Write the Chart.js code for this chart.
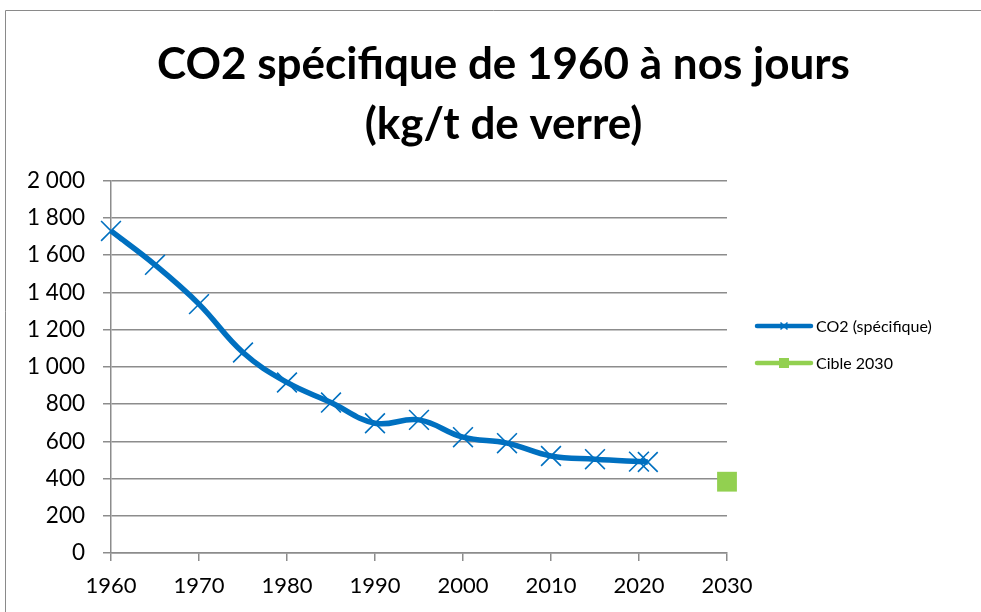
<!DOCTYPE html>
<html>
<head>
<meta charset="utf-8">
<script src="https://cdn.jsdelivr.net/npm/chart.js@4.4.1/dist/chart.umd.min.js"></script>
<style>
  html, body { margin: 0; padding: 0; background: #ffffff; }
  #wrap { position: relative; width: 981px; height: 612px; }
</style>
</head>
<body>
<div id="wrap"><canvas id="c" width="981" height="612"></canvas></div>
<script>
// ---- data ----
const years = [1960, 1965, 1970, 1975, 1980, 1985, 1990, 1995, 2000, 2005, 2010, 2015, 2020, 2021];
const co2Values = [1730, 1548, 1337, 1077, 916, 808, 697, 715, 622, 590, 521, 504, 491, 489];
const targetYears = [2030];
const targetValues = [383];
const seriesLabels = ['CO2 (spécifique)', 'Cible 2030'];
const titleLines = ['CO2 spécifique de 1960 à nos jours', '(kg/t de verre)'];
const xMin = 1960, xMax = 2030, xStep = 10;
const yMin = 0, yMax = 2000, yStep = 200;

const BLUE = '#0070C0';
const GREEN = '#92D050';
const GRID = '#8c8c8c';
const FONT = 'Lato, "Open Sans", sans-serif';

function fmt(v) {
  return String(v).replace(/\B(?=(\d{3})+(?!\d))/g, ' ');
}

const frame = {
  id: 'frame',
  beforeDraw(chart) {
    const ctx = chart.ctx;
    ctx.save();
    ctx.fillStyle = '#ffffff';
    ctx.fillRect(0, 0, chart.width, chart.height);
    ctx.strokeStyle = '#8a8a8a';
    ctx.lineWidth = 1;
    ctx.beginPath();
    ctx.moveTo(5.5, chart.height);
    ctx.lineTo(5.5, 10.5);
    ctx.lineTo(chart.width, 10.5);
    ctx.stroke();
    ctx.restore();
  }
};

const customLegend = {
  id: 'customLegend',
  afterDraw(chart) {
    const ctx = chart.ctx;
    const x0 = 757, x1 = 811, tx = 816;
    const rows = [326, 363];
    ctx.save();
    chart.data.datasets.forEach((ds, i) => {
      const y = rows[i];
      ctx.strokeStyle = ds.legendColor;
      ctx.lineWidth = 4.5;
      ctx.lineCap = 'round';
      ctx.beginPath();
      ctx.moveTo(x0, y);
      ctx.lineTo(x1, y);
      ctx.stroke();
      const cx = (x0 + x1) / 2;
      if (i === 0) {
        ctx.lineWidth = 1.5;
        ctx.lineCap = 'butt';
        ctx.beginPath();
        ctx.moveTo(cx - 3.5, y - 3.5); ctx.lineTo(cx + 3.5, y + 3.5);
        ctx.moveTo(cx - 3.5, y + 3.5); ctx.lineTo(cx + 3.5, y - 3.5);
        ctx.stroke();
      } else {
        ctx.fillStyle = ds.legendColor;
        ctx.fillRect(cx - 5, y - 5, 10, 10);
      }
      ctx.fillStyle = '#000000';
      ctx.font = '16px ' + FONT;
      ctx.textBaseline = 'middle';
      ctx.textAlign = 'left';
      ctx.fillText(ds.label, tx, y + 1);
    });
    ctx.restore();
  }
};

new Chart(document.getElementById('c'), {
  type: 'scatter',
  data: {
    datasets: [
      {
        label: seriesLabels[0],
        legendColor: BLUE,
        data: years.map((x, i) => ({ x: x, y: co2Values[i] })),
        showLine: true,
        borderColor: BLUE,
        backgroundColor: BLUE,
        borderWidth: 5.5,
        tension: 0.4,
        pointStyle: 'crossRot',
        pointRadius: 14,
        pointBorderWidth: 1.6,
        pointBorderColor: BLUE,
        clip: false
      },
      {
        label: seriesLabels[1],
        legendColor: GREEN,
        data: targetYears.map((x, i) => ({ x: x, y: targetValues[i] })),
        showLine: false,
        pointStyle: 'rect',
        pointRadius: 14,
        pointBorderWidth: 0,
        backgroundColor: GREEN,
        borderColor: GREEN,
        clip: false
      }
    ]
  },
  options: {
    responsive: false,
    devicePixelRatio: 1,
    animation: false,
    events: [],
    layout: { padding: { left: 26, right: 0, top: 0, bottom: 0 } },
    plugins: {
      legend: { display: false },
      tooltip: { enabled: false },
      title: {
        display: true,
        text: titleLines,
        color: '#000000',
        font: { family: FONT, size: 44, weight: 'bold', lineHeight: 1.36 },
        padding: { top: 35, bottom: 26 }
      }
    },
    scales: {
      x: {
        type: 'linear',
        min: xMin,
        max: xMax,
        afterFit(scale) { scale.height = 59; },
        ticks: {
          stepSize: xStep,
          color: '#000000',
          font: { family: FONT, size: 22 },
          padding: 12,
          maxRotation: 0,
          callback: v => String(v)
        },
        grid: {
          drawOnChartArea: false,
          drawTicks: true,
          tickLength: 8,
          color: GRID,
          lineWidth: 1.5
        },
        border: { display: true, color: GRID, width: 1.5 }
      },
      y: {
        type: 'linear',
        min: yMin,
        max: yMax,
        afterFit(scale) { scale.width = 85; },
        ticks: {
          stepSize: yStep,
          color: '#000000',
          font: { family: FONT, size: 22.5 },
          padding: 18,
          callback: v => fmt(v)
        },
        grid: {
          drawOnChartArea: true,
          drawTicks: true,
          tickLength: 8,
          color: GRID,
          lineWidth: 1.5
        },
        border: { display: true, color: GRID, width: 1.5 }
      },
      legendSpace: {
        type: 'linear',
        position: 'right',
        display: true,
        min: 0,
        max: 1,
        afterFit(scale) { scale.width = 254; },
        ticks: { display: false },
        grid: { display: false, drawTicks: false },
        border: { display: false }
      }
    }
  },
  plugins: [frame, customLegend]
});
</script>
</body>
</html>
